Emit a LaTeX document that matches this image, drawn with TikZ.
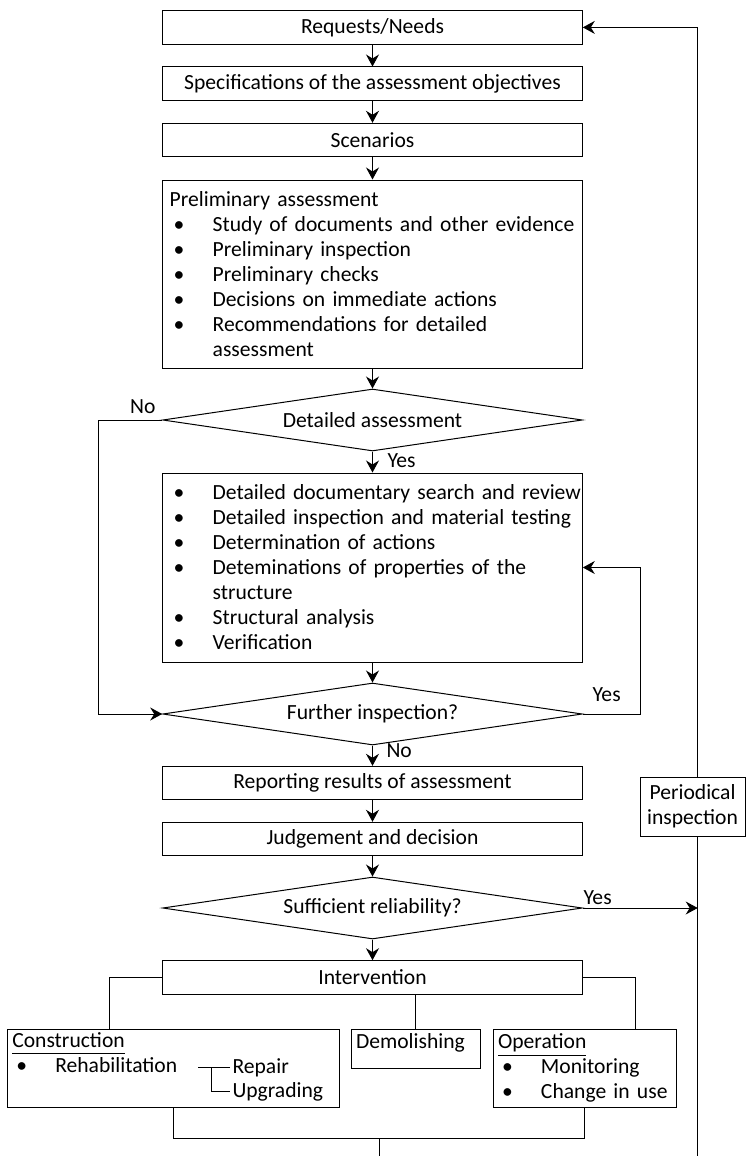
\documentclass[tikz,border=0pt]{standalone}
\usepackage{fontspec}
\setmainfont{Carlito}
\usetikzlibrary{shapes.geometric,arrows.meta}
\newcommand{\bul}[1]{\mbox{\makebox[21.5pt][l]{\hspace{2pt}\textbullet}#1}}
\newcommand{\ulword}[1]{\underline{#1\vphantom{p}}}
\tikzset{
  box/.style={draw, fill=white, minimum width=209.8pt, minimum height=16.7pt, inner sep=0pt},
  listbox/.style={box, align=left, inner xsep=3.5pt, text width=202.8pt},
  subbox/.style={box, align=left, inner xsep=2.5pt},
  cond/.style={draw, shape=diamond, fill=white, minimum width=209.8pt, minimum height=31pt, inner sep=0pt, aspect=6.8},
  lbl/.style={inner sep=0pt},
  arr/.style={-{Stealth[length=6pt,width=6.5pt,inset=2pt]}}
}
\begin{document}
\begin{tikzpicture}[x=0.5pt, y=-0.5pt, line width=0.5pt, font=\fontsize{10.8pt}{12.5pt}\selectfont]
  \useasboundingbox (0,0) rectangle (748,1156);
  \node[box] (req) at (372.5,27.4) {Requests/Needs};
  \node[box] (spec) at (372.5,83.7) {Specifications of the assessment objectives};
  \node[box] (scen) at (372.5,140) {Scenarios};
  \node[listbox, minimum height=94pt] (prel) at (372.5,274) {Preliminary assessment\\
    \bul{Study of documents and other evidence}\\
    \bul{Preliminary inspection}\\
    \bul{Preliminary checks}\\
    \bul{Decisions on immediate actions}\\
    \bul{Recommendations for detailed}\\
    \hspace*{21.5pt}assessment};
  \node[cond] (det) at (372.5,420) {Detailed assessment};
  \node[listbox, minimum height=94.5pt] (dass) at (372.5,567.5) {\bul{Detailed documentary search and review}\\
    \bul{Detailed inspection and material testing}\\
    \bul{Determination of actions}\\
    \bul{Deteminations of properties of the}\\
    \hspace*{21.5pt}structure\\
    \bul{Structural analysis}\\
    \bul{Verification}};
  \node[cond] (fur) at (372.5,714) {Further inspection?};
  \node[box] (rep) at (372.5,783) {Reporting results of assessment};
  \node[box] (jud) at (372.5,839) {Judgement and decision};
  \node[cond] (suf) at (372.5,908) {Sufficient reliability?};
  \node[box] (int) at (372.5,977.4) {Intervention};
  \node[subbox, minimum width=166pt, minimum height=39.35pt, text width=161pt] (con) at (173.3,1068.35)
    {\ulword{Construction}\\ \bul{Rehabilitation}\\ \strut};
  \node[subbox, minimum width=64.85pt, text width=59.85pt, text height=9.5pt, text depth=10pt] (dem) at (415.85,1048.5) {Demolishing};
  \node[subbox, minimum width=91.5pt, minimum height=39.35pt, text width=86.5pt] (op) at (584.5,1068.35)
    {\ulword{Operation}\\ \bul{Monitoring}\\ \bul{Change in use}};
  \node[lbl, anchor=base west] (repa) at (232,1073) {Repair};
  \node[lbl, anchor=base west] (upg) at (232,1097) {Upgrading};
  \node[lbl, anchor=base east] (no1) at (156,413) {No};
  \node[lbl, anchor=base west] (yes1) at (387,467) {Yes};
  \node[lbl, anchor=base west] (yes2) at (592,701) {Yes};
  \node[lbl, anchor=base west] (no2) at (386,757) {No};
  \node[lbl, anchor=base west] (yes3) at (583,904) {Yes};
  \coordinate (brk) at (213,1067);
  \coordinate (rl) at (697.7,1156);
  \coordinate (out) at (379,1156);
  \begin{scope}[arr]
    \draw (req) to (spec);
    \draw (spec) to (scen);
    \draw (scen) to (prel);
    \draw (prel) to (det);
    \draw (det) to (dass);
    \draw (dass) to (fur);
    \draw (fur) to (rep);
    \draw (rep) to (jud);
    \draw (jud) to (suf);
    \draw (suf) to (int);
    \draw (det.west) -- ++(-64,0) |- (fur.west);
    \draw (fur.east) -- ++(58,0) |- (dass.east);
    \draw (suf.east) -- (suf.east -| rl);
    \draw (rl) |- (req.east);
  \end{scope}
  \begin{scope}[-]
    \draw (int.west) -| ([xshift=-32.15pt]con.north);
    \draw (int.east) -| ([xshift=25.6pt]op.north);
    \draw (dem.north) -- (dem.north |- int.south);
    \draw (con.south) -- ++(0,30) -| (op.south);
    \draw (out) -- ++(0,-18.3);
    \draw ([xshift=-1pt]repa.west) -- ++(-32,0);
    \draw ([xshift=-1pt]repa.west -| brk) |- ([xshift=-1pt]upg.west);
  \end{scope}
  \node[box, minimum width=52.5pt, minimum height=29.5pt, align=center] (per) at (692.5,806.5) {Periodical\\inspection};
\end{tikzpicture}
\end{document}
